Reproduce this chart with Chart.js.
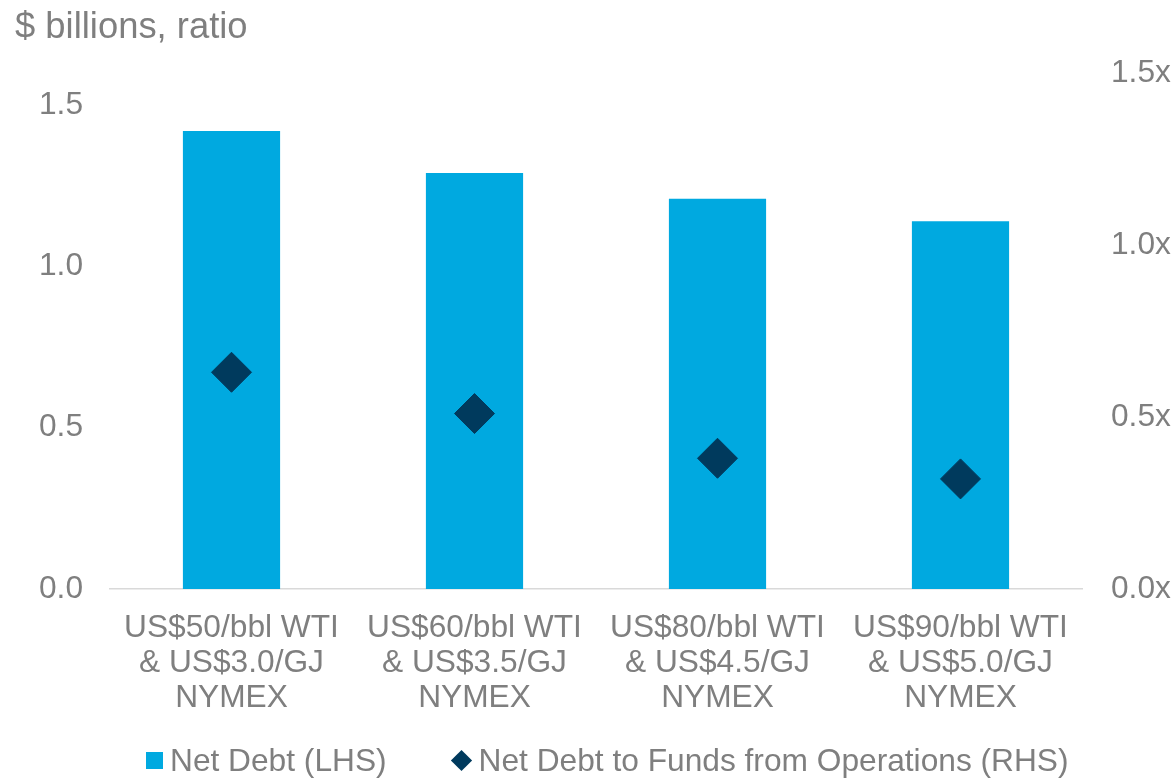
<!DOCTYPE html>
<html>
<head>
<meta charset="utf-8">
<title>Net Debt sensitivity</title>
<script src="https://cdn.jsdelivr.net/npm/chart.js@4.4.1/dist/chart.umd.min.js"></script>
<style>
  html, body { margin: 0; padding: 0; background: #ffffff; }
  #wrap { position: relative; width: 1176px; height: 778px; }
  #chart { display: block; }
  #legend {
    position: absolute; left: 146px; top: 742px; height: 36px;
    display: flex; align-items: center; white-space: nowrap;
    font-family: 'Liberation Sans', Arial, sans-serif; font-size: 31.7px; color: #7f7f7f;
  }
  #legend .item { display: flex; align-items: center; }
  #legend .item + .item { margin-left: 64px; }
  #legend .box { display: inline-block; width: 17px; height: 17px; margin-right: 7px; }
  #legend .diamond-wrap { display: inline-flex; width: 22px; height: 22px; align-items: center; justify-content: center; margin-right: 6px; }
  #legend .diamond { display: inline-block; width: 15px; height: 15px; transform: rotate(45deg); }
</style>
</head>
<body>
<div id="wrap">
  <canvas id="chart" width="1176" height="778"></canvas>
  <div id="legend"></div>
</div>
<script>
// Price scenarios (x categories), one label line per array entry
const categories = [
  ['US$50/bbl WTI', '& US$3.0/GJ', 'NYMEX'],
  ['US$60/bbl WTI', '& US$3.5/GJ', 'NYMEX'],
  ['US$80/bbl WTI', '& US$4.5/GJ', 'NYMEX'],
  ['US$90/bbl WTI', '& US$5.0/GJ', 'NYMEX']
];
// Net debt, $ billions (left axis)
const netDebt = [1.42, 1.29, 1.21, 1.14];
// Net debt to funds from operations, ratio (right axis)
const netDebtToFfo = [0.63, 0.51, 0.38, 0.32];
// Axis ticks
const leftTicks = [0, 0.5, 1.0, 1.5];
const rightTicks = [0, 0.5, 1.0, 1.5];

const FONT = "'Liberation Sans', Arial, sans-serif";
const GREY = '#7f7f7f';
const BLUE = '#00a9e0';
const NAVY = '#003a5d';
const LABEL_SIZE = 31.7;

// Legend rendered as HTML from the chart's datasets (in dataset order)
const htmlLegend = {
  id: 'htmlLegend',
  afterUpdate(chart) {
    const host = document.getElementById('legend');
    host.innerHTML = '';
    chart.data.datasets.forEach((ds) => {
      const item = document.createElement('span');
      item.className = 'item';
      let marker;
      if (ds.pointStyle === 'rectRot') {
        marker = document.createElement('span');
        marker.className = 'diamond-wrap';
        const d = document.createElement('span');
        d.className = 'diamond';
        d.style.background = ds.backgroundColor;
        marker.appendChild(d);
      } else {
        marker = document.createElement('span');
        marker.className = 'box';
        marker.style.background = ds.backgroundColor;
      }
      const text = document.createElement('span');
      text.textContent = ds.label;
      item.appendChild(marker);
      item.appendChild(text);
      host.appendChild(item);
    });
  }
};

const ctx = document.getElementById('chart').getContext('2d');
new Chart(ctx, {
  data: {
    labels: categories,
    datasets: [
      {
        type: 'bar',
        label: 'Net Debt (LHS)',
        data: netDebt,
        yAxisID: 'y',
        backgroundColor: BLUE,
        borderWidth: 0,
        categoryPercentage: 1.0,
        barPercentage: 0.4,
        pointStyle: 'rect',
        order: 1
      },
      {
        type: 'line',
        label: 'Net Debt to Funds from Operations (RHS)',
        data: netDebtToFfo,
        yAxisID: 'y1',
        showLine: false,
        pointStyle: 'rectRot',
        pointRadius: 20,
        pointHoverRadius: 20,
        backgroundColor: NAVY,
        borderColor: NAVY,
        borderWidth: 1,
        pointBackgroundColor: NAVY,
        pointBorderColor: NAVY,
        pointBorderWidth: 1,
        order: 0
      }
    ]
  },
  plugins: [htmlLegend],
  options: {
    responsive: false,
    devicePixelRatio: 1,
    animation: false,
    layout: { padding: { left: 15, right: 0, top: 0, bottom: 0 } },
    plugins: {
      tooltip: { enabled: false },
      legend: { display: false },
      title: {
        display: true,
        text: '$ billions, ratio',
        align: 'start',
        color: GREY,
        font: { family: FONT, size: 36.4, weight: 'normal', lineHeight: 1.2 },
        padding: { top: 6, bottom: 23.3 }
      }
    },
    scales: {
      x: {
        grid: { display: false, drawTicks: false },
        border: { display: true, color: '#d9d9d9', width: 1.5 },
        ticks: {
          color: GREY,
          padding: 22,
          maxRotation: 0,
          autoSkip: false,
          font: { family: FONT, size: LABEL_SIZE, lineHeight: 1.104 }
        },
        afterFit: (scale) => { scale.height = 189; }
      },
      y: {
        position: 'left',
        min: 0,
        max: 1.6,
        grid: { display: false, drawTicks: false },
        border: { display: false },
        afterBuildTicks: (scale) => { scale.ticks = leftTicks.map(v => ({ value: v })); },
        ticks: {
          color: GREY,
          padding: 27,
          font: { family: FONT, size: LABEL_SIZE },
          callback: (v) => Number(v).toFixed(1)
        },
        afterFit: (scale) => { scale.width = 95; }
      },
      y1: {
        position: 'right',
        min: 0,
        max: 1.5,
        grid: { display: false, drawTicks: false },
        border: { display: false },
        afterBuildTicks: (scale) => { scale.ticks = rightTicks.map(v => ({ value: v })); },
        ticks: {
          color: GREY,
          padding: 29,
          font: { family: FONT, size: LABEL_SIZE },
          callback: (v) => Number(v).toFixed(1) + 'x'
        },
        afterFit: (scale) => { scale.width = 94; }
      }
    }
  }
});
</script>
</body>
</html>
